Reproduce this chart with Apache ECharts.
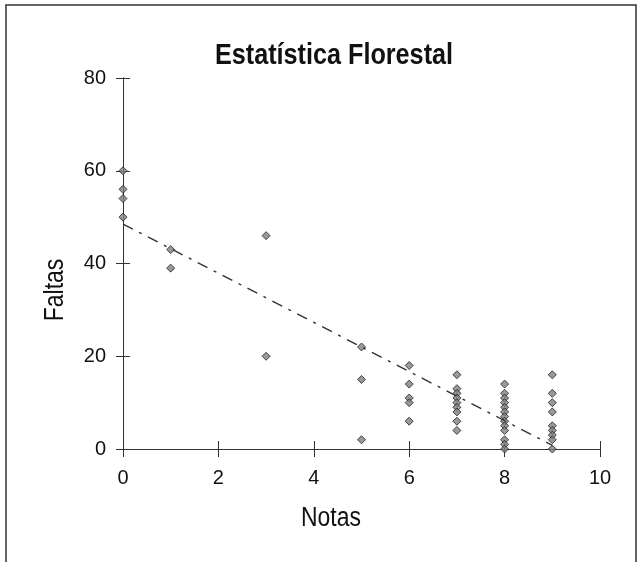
<!DOCTYPE html>
<html>
<head>
<meta charset="utf-8">
<script src="https://cdn.jsdelivr.net/npm/echarts@6/dist/echarts.min.js"></script>
<style>html,body{margin:0;padding:0;background:#fff}#c{width:641px;height:562px}</style>
</head>
<body>
<div id="c"></div>
<script>
var titleText = 'Estatística Florestal';
var xName = 'Notas';
var yName = 'Faltas';
var notas = [0,0,0,0, 1,1, 3,3, 5,5,5, 6,6,6,6,6,
  7,7,7,7,7,7,7,7,7,
  8,8,8,8,8,8,8,8,8,8,8,8,8,
  9,9,9,9,9,9,9,9,9];
var faltas = [60,56,54,50, 43,39, 46,20, 22,15,2, 18,14,11,10,6,
  16,13,12,11,10,9,8,6,4,
  14,12,11,10,9,8,7,6,5,4,2,1,0,
  16,12,10,8,5,4,3,2,0];
var trendX = [0, 9];
var trendY = [48.5, 0.8];

var FONT = '"Liberation Sans", Arial, sans-serif';
var points = notas.map(function(x,i){return [x, faltas[i]];});
var trend = trendX.map(function(x,i){return [x, trendY[i]];});

var axisCommon = {
  axisLine:{show:true, lineStyle:{color:'#333', width:1}},
  splitLine:{show:false}
};
function xa(showLabel, inside){
  return Object.assign({}, axisCommon, {
    type:'value', min:0, max:10, interval:2, position:'bottom',
    axisTick:{show:true, inside:inside, length:8, lineStyle:{color:'#333'}},
    axisLabel:{show:showLabel, margin:19, fontSize:20, color:'#111', fontFamily:FONT}
  });
}
function ya(showLabel, inside){
  return Object.assign({}, axisCommon, {
    type:'value', min:0, max:80, interval:20, position:'left',
    axisTick:{show:true, inside:inside, length:7, lineStyle:{color:'#333'}},
    axisLabel:{show:showLabel, margin:17, fontSize:20, color:'#111', fontFamily:FONT}
  });
}
var chart = echarts.init(document.getElementById('c'));
chart.setOption({
  animation:false,
  backgroundColor:'#fff',
  grid:{left:123, right:41, top:78, bottom:113},
  xAxis:[xa(true,false), xa(false,true)],
  yAxis:[ya(true,false), ya(false,true)],
  graphic:[
    {type:'rect', shape:{x:6, y:5, width:630, height:620}, style:{fill:'none', stroke:'#333', lineWidth:1.5}, silent:true},
    {type:'text', x:334, y:56, scaleX:0.84, style:{text:titleText, fontSize:30, fontWeight:'bold', fontFamily:FONT, fill:'#111', textAlign:'center', textVerticalAlign:'middle'}},
    {type:'text', x:56, y:290, rotation:Math.PI/2, scaleX:0.85, style:{text:yName, fontSize:27, fontFamily:FONT, fill:'#111', textAlign:'center', textVerticalAlign:'middle'}},
    {type:'text', x:331, y:519, scaleX:0.85, style:{text:xName, fontSize:27, fontFamily:FONT, fill:'#111', textAlign:'center', textVerticalAlign:'middle'}}
  ],
  series:[
    {type:'line', data:trend, xAxisIndex:0, yAxisIndex:0, symbol:'none', silent:true,
      lineStyle:{color:'#333', width:1.4, type:[11,7,3,7]}},
    {type:'scatter', data:points, xAxisIndex:0, yAxisIndex:0, symbol:'diamond', symbolSize:8,
      itemStyle:{color:'#808080', borderColor:'#222', borderWidth:1}}
  ]
});
</script>
</body>
</html>
